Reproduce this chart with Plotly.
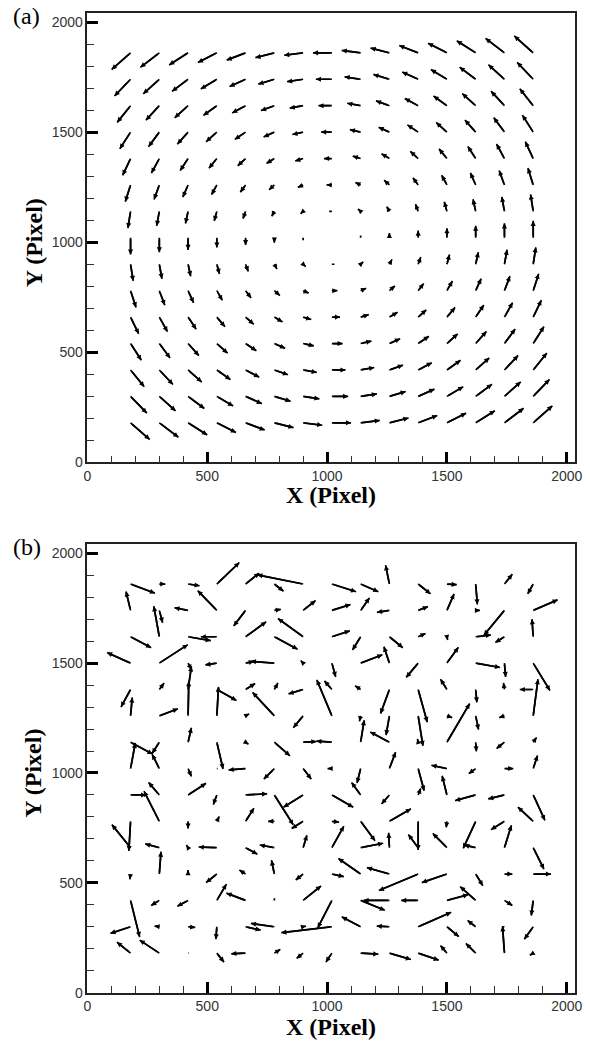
import plotly.graph_objects as go

# ---------------- data ----------------
grid_x = [180, 300, 420, 540, 660, 780, 900, 1020, 1140, 1260, 1380, 1500, 1620, 1740, 1860]
grid_y = [180, 300, 420, 540, 660, 780, 900, 1020, 1140, 1260, 1380, 1500, 1620, 1740, 1860]

# panel (a): horizontal component per row (bottom -> top), vertical component per column (left -> right)
u_a_by_row = [80, 68, 57, 45, 34, 23, 11, 0, -11, -22, -33, -45, -56, -67, -79]
v_a_by_col = [-76, -66, -55, -44, -33, -22, -11, 0, 11, 22, 33, 44, 55, 66, 77]

# panel (b): rows bottom -> top, columns left -> right
u_b = [
    [-57, -82, 2, 30, -60, 25, -27, -25, 74, 90, 86, -27, -41, -8, -14],
    [-84, -20, 30, -4, 63, -98, 12, -211, -79, -53, 138, 50, -34, -10, -37],
    [38, -34, -45, 40, -80, 0, 75, -59, 101, -108, -71, 89, -65, 33, -8],
    [-3, 7, 0, -45, -26, -12, -31, 50, -93, -94, -164, -105, 30, 33, 74],
    [-78, -59, -7, -76, 49, -61, 16, 50, 94, -3, -41, -59, -48, 29, 45],
    [-7, -64, 0, 10, 35, -26, -48, 30, 60, 90, 0, -3, -52, -56, -64],
    [65, -45, 75, -15, 90, 79, -82, 89, -38, -33, 11, -20, -86, -68, 49],
    [20, -30, 14, 3, -71, -44, 34, -18, -15, 26, 25, -65, -29, 37, 18],
    [92, -30, 14, 26, 12, 65, 55, -65, 15, -80, -3, 95, 3, -33, 14],
    [7, 78, 3, 7, 15, -91, -41, -63, -5, -14, 20, 22, 12, -22, 20],
    [-40, 20, 14, 82, 40, 15, -61, -31, -23, -37, 38, -27, 5, -4, -56],
    [-98, 119, 14, -48, 35, -98, -10, 16, 91, -23, -50, 48, 102, 5, 70],
    [86, -23, 95, -67, 86, 97, -105, 75, -34, 56, 31, 3, 64, -38, -5],
    [-19, 14, -57, -80, -50, 27, 52, 78, 37, -52, 41, 30, 18, -86, 102],
    [102, 25, 48, 94, 57, 38, -191, 101, 74, -16, 52, 41, 7, 33, -23],
]
v_b = [
    [50, 59, 0, -41, -3, 17, -24, -41, -5, -29, -32, 35, 44, 122, -10],
    [-30, 3, -3, -57, -15, 15, 3, -27, 45, 3, 66, -45, 29, 0, -57],
    [-167, -23, -27, 74, 33, 10, 66, -125, -45, 0, 0, 26, 63, -23, -69],
    [-24, 102, 18, -39, 18, 63, -27, -12, 71, 29, -75, -39, -53, 0, 0],
    [105, 17, 12, 3, -30, 12, 57, 98, 20, 68, 60, 65, 12, 102, -98],
    [-135, 137, -33, 22, 60, 0, -33, -4, -89, 57, -131, -28, -123, -38, 65],
    [0, 57, 53, -44, 5, -136, -56, -56, 57, -41, 30, 87, -26, -18, -116],
    [117, 65, -36, 0, -6, -48, -48, 0, -66, 75, -101, 15, -23, 0, 60],
    [-54, -51, 66, -122, -9, -62, 3, 5, 101, 47, 15, 176, -42, -29, 22],
    [84, 32, 158, 132, 9, 107, -54, 164, -25, -88, -137, -8, -63, -8, 167],
    [-80, 29, 105, -50, 27, 30, -20, 39, 17, -110, -149, 47, -59, 30, 0],
    [48, 84, -30, -8, 8, 8, 12, -63, 38, 75, -65, 72, -20, -63, -125],
    [-50, 139, -18, 0, 68, -57, 83, 27, -60, -50, 15, -15, 8, -26, 80],
    [86, -56, 12, 90, -71, 5, 45, 27, 57, -9, 17, 75, 0, -113, 48],
    [-42, 0, -8, 98, 50, -33, 42, -35, -35, 86, -45, -3, -93, 45, -45],
]

tick_vals = [0, 500, 1000, 1500, 2000]
tick_text = ["0", "500", "1000", "1500", "2000"]

# ---------------- figure ----------------
fig = go.Figure()


def shafts(u_get, v_get):
    xs, ys = [], []
    for i, y0 in enumerate(grid_y):
        for j, x0 in enumerate(grid_x):
            u, v = u_get(i, j), v_get(i, j)
            if u == 0 and v == 0:
                continue
            xs += [x0, x0 + u, None]
            ys += [y0, y0 + v, None]
    return xs, ys


xa, ya = shafts(lambda i, j: u_a_by_row[i], lambda i, j: v_a_by_col[j])
xb, yb = shafts(lambda i, j: u_b[i][j], lambda i, j: v_b[i][j])
fig.add_trace(go.Scatter(x=xa, y=ya, mode="lines", line=dict(color="black", width=1.7),
                         xaxis="x", yaxis="y", hoverinfo="skip", showlegend=False))
fig.add_trace(go.Scatter(x=xb, y=yb, mode="lines", line=dict(color="black", width=1.7),
                         xaxis="x2", yaxis="y2", hoverinfo="skip", showlegend=False))

annotations = []


def add_head(xr, yr, x0, y0, u, v):
    if u == 0 and v == 0:
        return
    annotations.append(dict(
        x=x0 + u, y=y0 + v, ax=x0, ay=y0,
        xref=xr, yref=yr, axref=xr, ayref=yr,
        showarrow=True, text="", arrowhead=2, arrowsize=0.6,
        arrowwidth=1.7, arrowcolor="black", standoff=0, startstandoff=0,
    ))


for i, y0 in enumerate(grid_y):
    for j, x0 in enumerate(grid_x):
        add_head("x", "y", x0, y0, u_a_by_row[i], v_a_by_col[j])
        add_head("x2", "y2", x0, y0, u_b[i][j], v_b[i][j])

title_font = dict(family="Liberation Serif", size=24, color="black")
label_font = dict(family="Liberation Serif", size=24, color="black")

H = 1049.0
W = 590.0
for top_px, bot_px, tag, tag_y, xt_off in [(13.3, 466.0, "(a)", 16, 33), (548.0, 1000.3, "(b)", 551, 35)]:
    annotations.append(dict(text="<b>X (Pixel)</b>", xref="paper", yref="paper",
                            x=333 / W, y=1 - (bot_px + xt_off) / H, showarrow=False,
                            font=title_font, xanchor="center", yanchor="middle"))
    annotations.append(dict(text="<b>Y (Pixel)</b>", xref="paper", yref="paper",
                            x=30 / W, y=1 - ((top_px + bot_px) / 2 + 5) / H, showarrow=False,
                            font=title_font, textangle=-90, xanchor="center", yanchor="middle"))
    annotations.append(dict(text=tag, xref="paper", yref="paper",
                            x=23 / W, y=1 - tag_y / H, showarrow=False,
                            font=label_font, xanchor="center", yanchor="middle"))

axis_common = dict(
    showline=True, mirror=True, linecolor="#222", linewidth=1.5,
    showgrid=False, zeroline=False,
    ticks="inside", ticklen=11, tickwidth=2.5, tickcolor="black",
    tickvals=tick_vals, ticktext=tick_text,
    tickfont=dict(family="Liberation Sans", size=14, color="#333"),
    ticklabeloverflow="allow",
    minor=dict(ticks="inside", ticklen=7, tickwidth=1, tickcolor="#333", dtick=100, tick0=0, showgrid=False),
)

x_dom = [85 / W, 582 / W]
fig.update_layout(
    width=590, height=1049, autosize=False,
    margin=dict(l=0, r=0, t=0, b=0, pad=0),
    paper_bgcolor="white", plot_bgcolor="white",
    showlegend=False,
    xaxis=dict(domain=x_dom, range=[0, 2035], anchor="y", **axis_common),
    yaxis=dict(domain=[1 - 466.0 / H, 1 - 13.3 / H], range=[0, 2040], anchor="x", **axis_common),
    xaxis2=dict(domain=x_dom, range=[0, 2035], anchor="y2", **axis_common),
    yaxis2=dict(domain=[1 - 1000.3 / H, 1 - 548.0 / H], range=[0, 2043], anchor="x2", **axis_common),
    annotations=annotations,
)

fig.write_html(
    "out.html",
    config={"responsive": False, "displayModeBar": False},
    post_script="document.body.style.margin='0';document.body.style.overflow='hidden';",
)
